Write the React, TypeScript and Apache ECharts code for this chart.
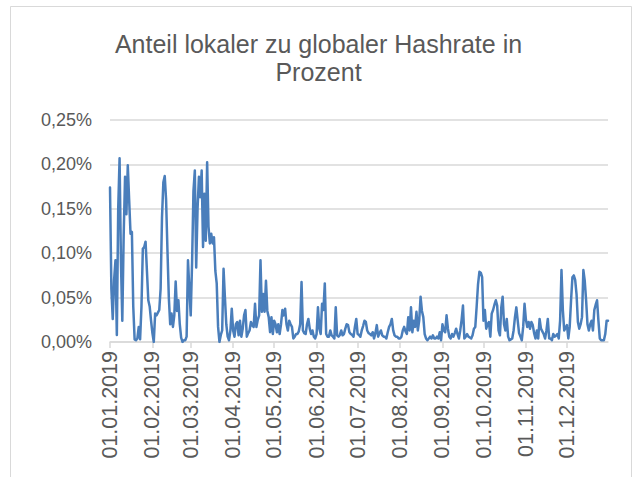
import React, { useEffect, useRef } from "react";
import * as echarts from "echarts";

const YEAR = 2019;
const monthLengths = [31, 28, 31, 30, 31, 30, 31, 31, 30, 31, 30, 31];

// Share of local hashrate in global hashrate, in percent, one value per day
const jan = [0.174, 0.06, 0.026, 0.07, 0.092, 0.008, 0.15, 0.207, 0.09, 0.024, 0.12, 0.186, 0.144, 0.199, 0.16, 0.122, 0.124, 0.04, 0.003, 0.002, 0.004, 0.017, 0.003, 0.04, 0.105, 0.107, 0.113, 0.08, 0.047, 0.04, 0.024];
const feb = [0.01, 0.0, 0.032, 0.03, 0.033, 0.036, 0.06, 0.14, 0.18, 0.187, 0.16, 0.103, 0.05, 0.02, 0.032, 0.017, 0.03, 0.068, 0.035, 0.047, 0.02, 0.005, 0.0, 0.002, 0.002, 0.006, 0.092, 0.06];
const mar = [0.03, 0.09, 0.17, 0.193, 0.084, 0.15, 0.186, 0.163, 0.193, 0.107, 0.167, 0.114, 0.2025, 0.13, 0.111, 0.122, 0.111, 0.118, 0.08, 0.066, 0.017, 0.0, 0.008, 0.013, 0.0825, 0.05, 0.02, 0.006, 0.002, 0.013, 0.0375];
const apr = [0.013, 0.006, 0.02, 0.0225, 0.0075, 0.024, 0.006, 0.015, 0.03, 0.036, 0.006, 0.01, 0.013, 0.0225, 0.019, 0.017, 0.043, 0.017, 0.025, 0.03, 0.092, 0.034, 0.054, 0.034, 0.069, 0.035, 0.028, 0.011, 0.028, 0.009];
const may = [0.024, 0.02, 0.011, 0.02, 0.009, 0.02, 0.036, 0.03, 0.0375, 0.02, 0.013, 0.024, 0.02, 0.017, 0.004, 0.006, 0.009, 0.009, 0.012, 0.02, 0.0675, 0.013, 0.01, 0.009, 0.02, 0.026, 0.015, 0.009, 0.013, 0.006, 0.004];
const jun = [0.009, 0.039, 0.015, 0.009, 0.043, 0.036, 0.066, 0.009, 0.006, 0.006, 0.013, 0.0075, 0.006, 0.004, 0.039, 0.0075, 0.006, 0.008, 0.013, 0.0075, 0.009, 0.015, 0.02, 0.019, 0.011, 0.009, 0.008, 0.006, 0.017, 0.026];
const jul = [0.009, 0.008, 0.006, 0.013, 0.018, 0.024, 0.0225, 0.013, 0.01, 0.009, 0.0075, 0.011, 0.004, 0.01, 0.019, 0.006, 0.01, 0.013, 0.0075, 0.006, 0.006, 0.004, 0.011, 0.017, 0.02, 0.026, 0.013, 0.0075, 0.006, 0.006, 0.004];
const aug = [0.004, 0.006, 0.013, 0.017, 0.012, 0.009, 0.028, 0.013, 0.039, 0.011, 0.024, 0.017, 0.034, 0.013, 0.024, 0.051, 0.035, 0.028, 0.009, 0.004, 0.002, 0.004, 0.006, 0.004, 0.0075, 0.004, 0.004, 0.006, 0.004, 0.011, 0.002];
const sep = [0.02, 0.013, 0.011, 0.03, 0.015, 0.006, 0.004, 0.009, 0.006, 0.01, 0.015, 0.009, 0.004, 0.013, 0.025, 0.041, 0.004, 0.006, 0.009, 0.006, 0.005, 0.004, 0.0075, 0.015, 0.017, 0.04, 0.065, 0.079, 0.078, 0.073];
const oct = [0.024, 0.036, 0.015, 0.02, 0.0225, 0.006, 0.032, 0.036, 0.042, 0.047, 0.041, 0.013, 0.0075, 0.039, 0.051, 0.02, 0.013, 0.026, 0.006, 0.002, 0.003, 0.004, 0.013, 0.028, 0.039, 0.024, 0.01, 0.006, 0.002, 0.017, 0.043];
const nov = [0.025, 0.017, 0.0225, 0.015, 0.0225, 0.019, 0.01, 0.004, 0.013, 0.004, 0.026, 0.015, 0.012, 0.009, 0.004, 0.013, 0.026, 0.004, 0.004, 0.002, 0.009, 0.006, 0.007, 0.009, 0.004, 0.024, 0.081, 0.036, 0.013, 0.016];
const dec = [0.019, 0.004, 0.017, 0.047, 0.073, 0.075, 0.07, 0.054, 0.0225, 0.015, 0.02, 0.028, 0.081, 0.069, 0.047, 0.02, 0.013, 0.02, 0.024, 0.013, 0.036, 0.042, 0.047, 0.024, 0.004, 0.002, 0.002, 0.002, 0.009, 0.024, 0.024];

const monthly = [jan, feb, mar, apr, may, jun, jul, aug, sep, oct, nov, dec];
const values: number[] = monthly.flat();

const pad = (n: number) => (n < 10 ? "0" + n : "" + n);
const dates: string[] = [];
monthLengths.forEach((len, m) => {
  for (let d = 1; d <= len; d++) dates.push(`${pad(d)}.${pad(m + 1)}.${YEAR}`);
});

const Y_MIN = 0;
const Y_MAX = 0.25;
const Y_STEP = 0.05;

const TITLE = "Anteil lokaler zu globaler Hashrate in\nProzent";

const fmtPct = (v: number) => v.toFixed(2).replace(".", ",") + "%";
const isMonthStart = (i: number) => dates[i] !== undefined && dates[i].startsWith("01.");

export default function App() {
  const ref = useRef<HTMLDivElement>(null);
  useEffect(() => {
    if (!ref.current) return;
    const chart = echarts.init(ref.current, null, { renderer: "svg" });
    chart.setOption({
      animation: false,
      backgroundColor: "#ffffff",
      textStyle: { fontFamily: "Liberation Sans, Arial, sans-serif" },
      title: {
        text: TITLE,
        left: "center",
        top: 25,
        textStyle: {
          fontSize: 25,
          lineHeight: 28,
          fontWeight: "normal",
          color: "#595959",
          fontFamily: "Liberation Sans, Arial, sans-serif",
        },
      },
      graphic: [
        {
          type: "rect",
          shape: { x: 10.5, y: 6.5, width: 621, height: 480 },
          style: { fill: "none", stroke: "#d9d9d9", lineWidth: 1 },
          silent: true,
          z: -1,
        },
      ],
      grid: { left: 110, top: 120, width: 498, height: 222, containLabel: false },
      xAxis: {
        type: "category",
        data: dates,
        boundaryGap: false,
        axisLine: { show: true, lineStyle: { color: "#d9d9d9", width: 1.5 } },
        axisTick: {
          show: true,
          interval: (i: number) => isMonthStart(i),
          length: 6,
          lineStyle: { color: "#d9d9d9", width: 1.5 },
        },
        axisLabel: {
          interval: (i: number) => isMonthStart(i),
          rotate: 90,
          margin: 9,
          fontSize: 21.5,
          color: "#595959",
          fontFamily: "Liberation Sans, Arial, sans-serif",
        },
        splitLine: { show: false },
      },
      yAxis: {
        type: "value",
        min: Y_MIN,
        max: Y_MAX,
        interval: Y_STEP,
        axisLine: { show: false },
        axisTick: { show: false },
        axisLabel: {
          formatter: fmtPct,
          margin: 18,
          fontSize: 18,
          color: "#595959",
          fontFamily: "Liberation Sans, Arial, sans-serif",
        },
        splitLine: { show: true, lineStyle: { color: "#d9d9d9", width: 1.5 } },
      },
      series: [
        {
          type: "line",
          data: values,
          showSymbol: false,
          smooth: false,
          lineStyle: { color: "#4a7ebb", width: 2.5, cap: "round", join: "round" },
          itemStyle: { color: "#4a7ebb" },
        },
      ],
    });
    return () => chart.dispose();
  }, []);
  return (
    <div
      ref={ref}
      style={{ position: "absolute", left: 0, top: 0, width: 637, height: 477 }}
    />
  );
}
